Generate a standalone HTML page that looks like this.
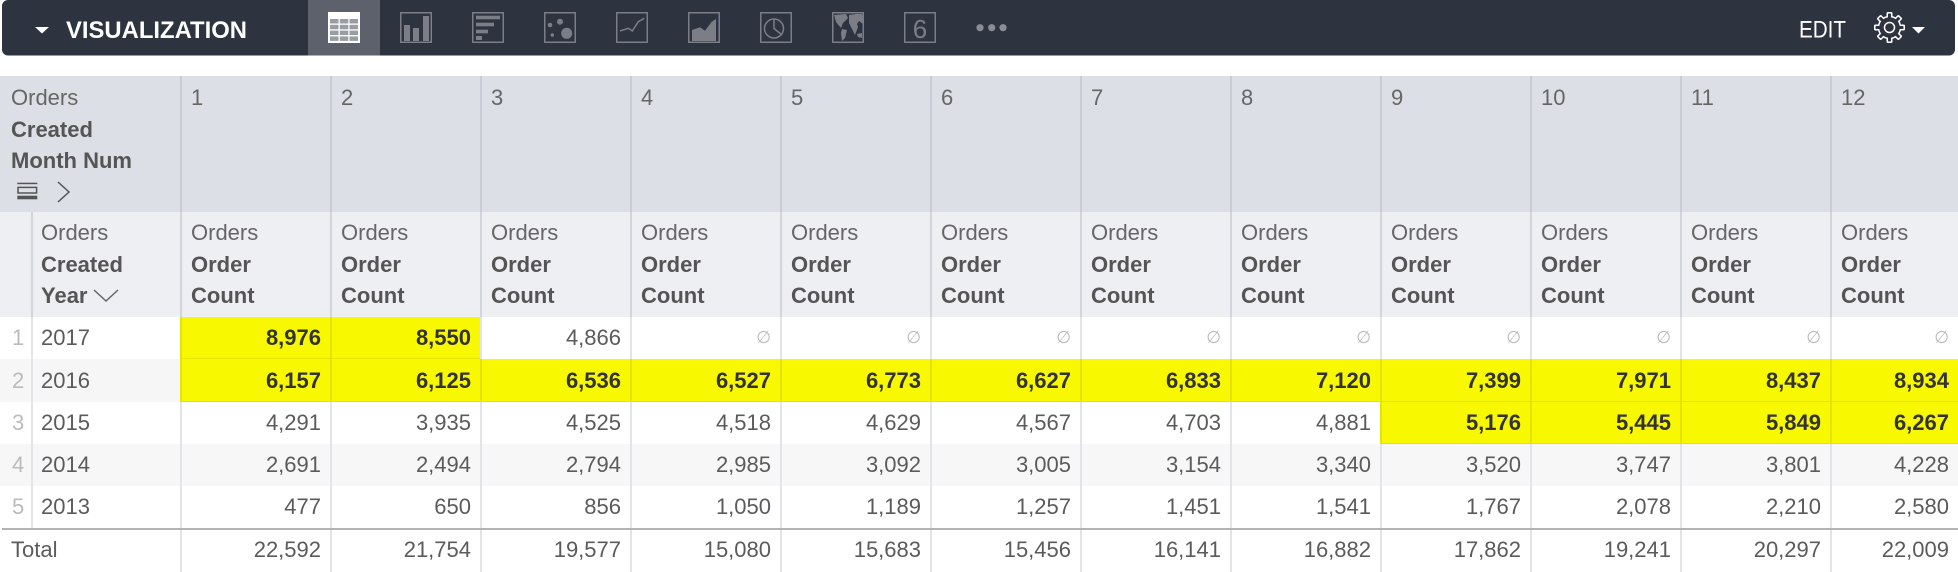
<!DOCTYPE html>
<html>
<head>
<meta charset="utf-8">
<style>
html,body{margin:0;padding:0;}
body{width:1958px;height:564px;overflow:hidden;background:#fff;position:relative;font-family:"Liberation Sans",Arial,sans-serif;font-size:22px;color:#5b5b5b;}
.row{position:absolute;left:0;display:flex;white-space:nowrap;}
.row div{box-sizing:border-box;flex:none;overflow:hidden;}
.h1 div{height:136px;line-height:31.5px;padding:6px 0 0 9px;border-left:2px solid #c9ccd4;width:150px;color:#666;}
.h1 .f{width:180px;border-left:none;padding-left:11px;}
.h2 div{height:105px;line-height:31.5px;padding:5px 0 0 9px;border-left:2px solid #d3d5dc;width:150px;color:#666;}
.h2 .rn{width:31px;border-left:none;padding:0;}
.h2 .yr{width:149px;padding-left:8px;}
b{color:#555;font-weight:bold;}
.d div{border-left:2px solid #e3e4e8;width:150px;text-align:right;padding-right:9px;}
.d .rn{width:31px;border-left:none;text-align:left;padding:0 0 0 12px;color:#bbb;}
.d .yr{width:149px;text-align:left;padding:0 0 0 8px;}
.d .y{background:#f8f800;border-left-color:#e4e400;font-weight:bold;color:#333;box-shadow:inset 0 -1px 0 #e4e400;}
.d .n{color:#b9b9b9;font-size:17px;}
.g{background:#f6f6f7;}
.t div{border-left:2px solid #e3e4e8;width:150px;text-align:right;padding-right:9px;}
.t .f{width:180px;border-left:none;text-align:left;padding-left:11px;}
.row div:last-child{width:128px;}
</style>
</head>
<body>
<svg width="1958" height="56" style="position:absolute;left:0;top:0" xmlns="http://www.w3.org/2000/svg">
  <rect x="2" y="0" width="1953" height="55.5" rx="6" fill="#2e3340"/>
  <rect x="308" y="0" width="72" height="55.5" fill="#5d616b"/>
  <polygon points="35,27 49,27 42,33.5" fill="#fff"/>
  <text x="66" y="38" font-family="Liberation Sans, sans-serif" font-weight="bold" font-size="24" fill="#fff" textLength="181" lengthAdjust="spacingAndGlyphs">VISUALIZATION</text>
  <rect x="328" y="12" width="32" height="31" fill="#fff"/>
  <g fill="#9a9da4">
    <rect x="330" y="19" width="8.5" height="4.5"/><rect x="339.8" y="19" width="8.5" height="4.5"/><rect x="349.5" y="19" width="8.5" height="4.5"/>
    <rect x="330" y="24.8" width="8.5" height="4.5"/><rect x="339.8" y="24.8" width="8.5" height="4.5"/><rect x="349.5" y="24.8" width="8.5" height="4.5"/>
    <rect x="330" y="30.6" width="8.5" height="4.5"/><rect x="339.8" y="30.6" width="8.5" height="4.5"/><rect x="349.5" y="30.6" width="8.5" height="4.5"/>
    <rect x="330" y="36.4" width="8.5" height="4.5"/><rect x="339.8" y="36.4" width="8.5" height="4.5"/><rect x="349.5" y="36.4" width="8.5" height="4.5"/>
  </g>
  <g fill="none" stroke="#7b7e87" stroke-width="1.5">
    <rect x="400.75" y="12.75" width="30.5" height="29.5"/>
    <rect x="472.75" y="12.75" width="30.5" height="29.5"/>
    <rect x="544.75" y="12.75" width="30.5" height="29.5"/>
    <rect x="616.75" y="12.75" width="30.5" height="29.5"/>
    <rect x="688.75" y="12.75" width="30.5" height="29.5"/>
    <rect x="760.75" y="12.75" width="30.5" height="29.5"/>
    <rect x="832.75" y="12.75" width="30.5" height="29.5"/>
    <rect x="904.75" y="12.75" width="30.5" height="29.5"/>
    <polyline points="620,31 628.3,28.3 632.3,31 638.3,21.7 644.3,18.3"/>
    <circle cx="774" cy="28.5" r="9.5"/>
    <polyline points="774,19 774,28.5 782,35"/>
  </g>
  <g fill="#7b7e87">
    <rect x="404" y="25" width="6" height="16"/><rect x="413" y="28" width="6" height="13"/><rect x="423" y="16" width="6" height="25"/>
    <rect x="476" y="15.7" width="24" height="3.6"/><rect x="476" y="22.7" width="18" height="3.6"/><rect x="476" y="29.7" width="12" height="3.6"/><rect x="476" y="36" width="6" height="4"/>
    <circle cx="550" cy="25" r="2.3"/><circle cx="560" cy="21.7" r="3"/><circle cx="552.3" cy="35" r="1.7"/><circle cx="566.7" cy="33.3" r="5.5"/>
    <polygon points="692,41 692,30 700,27.3 705,30.7 711.7,21.7 716,19 716,41"/>
    <polygon points="834,15 846,14 848,18 843,23 841,28 836,22"/>
    <polygon points="842,29 847,30 845,38 842,41 841,33"/>
    <polygon points="849,15 856,14 862,14 863,18 863,24 859,21 857,24 858,27 855,35 852,29 849,23"/>
    <polygon points="857,34 862,33 862,38 858,37"/>
    <circle cx="980" cy="27.7" r="3.6" fill="#8a8d95"/><circle cx="991.7" cy="27.7" r="3.6" fill="#8a8d95"/><circle cx="1003" cy="27.7" r="3.6" fill="#8a8d95"/>
  </g>
  <text x="920" y="38" text-anchor="middle" font-family="Liberation Sans, sans-serif" font-size="26" fill="#7b7e87">6</text>
  <text x="1799" y="37.7" font-family="Liberation Sans, sans-serif" font-size="24" fill="#fff" textLength="47" lengthAdjust="spacingAndGlyphs">EDIT</text>
  <g transform="translate(1889.5,27.5)">
    <g fill="#fff">
      <circle r="11.8"/>
      <rect x="-3" y="-15.5" width="6" height="6" rx="1.5"/>
      <rect x="-3" y="-15.5" width="6" height="6" rx="1.5" transform="rotate(45)"/>
      <rect x="-3" y="-15.5" width="6" height="6" rx="1.5" transform="rotate(90)"/>
      <rect x="-3" y="-15.5" width="6" height="6" rx="1.5" transform="rotate(135)"/>
      <rect x="-3" y="-15.5" width="6" height="6" rx="1.5" transform="rotate(180)"/>
      <rect x="-3" y="-15.5" width="6" height="6" rx="1.5" transform="rotate(225)"/>
      <rect x="-3" y="-15.5" width="6" height="6" rx="1.5" transform="rotate(270)"/>
      <rect x="-3" y="-15.5" width="6" height="6" rx="1.5" transform="rotate(315)"/>
    </g>
    <g fill="#2e3340">
      <circle r="10.3"/>
      <rect x="-1.5" y="-14" width="3" height="5" rx="0.8"/>
      <rect x="-1.5" y="-14" width="3" height="5" rx="0.8" transform="rotate(45)"/>
      <rect x="-1.5" y="-14" width="3" height="5" rx="0.8" transform="rotate(90)"/>
      <rect x="-1.5" y="-14" width="3" height="5" rx="0.8" transform="rotate(135)"/>
      <rect x="-1.5" y="-14" width="3" height="5" rx="0.8" transform="rotate(180)"/>
      <rect x="-1.5" y="-14" width="3" height="5" rx="0.8" transform="rotate(225)"/>
      <rect x="-1.5" y="-14" width="3" height="5" rx="0.8" transform="rotate(270)"/>
      <rect x="-1.5" y="-14" width="3" height="5" rx="0.8" transform="rotate(315)"/>
    </g>
    <circle r="5" fill="none" stroke="#fff" stroke-width="1.5"/>
  </g>
  <polygon points="1912,27 1925,27 1918.5,33.5" fill="#fff"/>
</svg>

<div class="row h1" style="top:76px;background:#dcdfe6;">
  <div class="f">Orders<br><b>Created</b><br><b>Month Num</b></div>
  <div>1</div><div>2</div><div>3</div><div>4</div><div>5</div><div>6</div><div>7</div><div>8</div><div>9</div><div>10</div><div>11</div><div>12</div>
</div>
<svg width="80" height="30" style="position:absolute;left:0;top:178px" xmlns="http://www.w3.org/2000/svg">
  <rect x="17.3" y="4.7" width="20" height="1.5" fill="#555"/>
  <rect x="18" y="9.4" width="18.6" height="5.6" fill="none" stroke="#555" stroke-width="1.5"/>
  <rect x="17.3" y="17.7" width="20" height="3.6" fill="#555"/>
  <polyline points="58,4 69,14 58,24" fill="none" stroke="#555" stroke-width="1.5"/>
</svg>

<div class="row h2" style="top:212px;background:#eeeff3;">
  <div class="rn"></div>
  <div class="yr">Orders<br><b>Created</b><br><b>Year</b></div>
  <div>Orders<br><b>Order</b><br><b>Count</b></div>
  <div>Orders<br><b>Order</b><br><b>Count</b></div>
  <div>Orders<br><b>Order</b><br><b>Count</b></div>
  <div>Orders<br><b>Order</b><br><b>Count</b></div>
  <div>Orders<br><b>Order</b><br><b>Count</b></div>
  <div>Orders<br><b>Order</b><br><b>Count</b></div>
  <div>Orders<br><b>Order</b><br><b>Count</b></div>
  <div>Orders<br><b>Order</b><br><b>Count</b></div>
  <div>Orders<br><b>Order</b><br><b>Count</b></div>
  <div>Orders<br><b>Order</b><br><b>Count</b></div>
  <div>Orders<br><b>Order</b><br><b>Count</b></div>
  <div>Orders<br><b>Order</b><br><b>Count</b></div>
</div>
<svg width="30" height="16" style="position:absolute;left:92px;top:288px" xmlns="http://www.w3.org/2000/svg">
  <polyline points="2,2 14,13 26,2" fill="none" stroke="#666" stroke-width="1.5"/>
</svg>

<div class="row d" style="top:317px;height:42px;line-height:42px;">
  <div class="rn">1</div><div class="yr">2017</div>
  <div class="y">8,976</div><div class="y">8,550</div><div>4,866</div>
  <div class="n">∅</div><div class="n">∅</div><div class="n">∅</div><div class="n">∅</div><div class="n">∅</div><div class="n">∅</div><div class="n">∅</div><div class="n">∅</div><div class="n">∅</div>
</div>
<div class="row d" style="top:359px;height:43px;line-height:43px;">
  <div class="rn g">2</div><div class="yr g">2016</div>
  <div class="y">6,157</div><div class="y">6,125</div><div class="y">6,536</div><div class="y">6,527</div><div class="y">6,773</div><div class="y">6,627</div><div class="y">6,833</div><div class="y">7,120</div><div class="y">7,399</div><div class="y">7,971</div><div class="y">8,437</div><div class="y">8,934</div>
</div>
<div class="row d" style="top:402px;height:42px;line-height:42px;">
  <div class="rn">3</div><div class="yr">2015</div>
  <div>4,291</div><div>3,935</div><div>4,525</div><div>4,518</div><div>4,629</div><div>4,567</div><div>4,703</div><div>4,881</div><div class="y">5,176</div><div class="y">5,445</div><div class="y">5,849</div><div class="y">6,267</div>
</div>
<div class="row d" style="top:444px;height:42px;line-height:42px;background:#f7f7f8;">
  <div class="rn">4</div><div class="yr">2014</div>
  <div>2,691</div><div>2,494</div><div>2,794</div><div>2,985</div><div>3,092</div><div>3,005</div><div>3,154</div><div>3,340</div><div>3,520</div><div>3,747</div><div>3,801</div><div>4,228</div>
</div>
<div class="row d" style="top:486px;height:42px;line-height:42px;">
  <div class="rn">5</div><div class="yr">2013</div>
  <div>477</div><div>650</div><div>856</div><div>1,050</div><div>1,189</div><div>1,257</div><div>1,451</div><div>1,541</div><div>1,767</div><div>2,078</div><div>2,210</div><div>2,580</div>
</div>
<div style="position:absolute;left:2px;top:528px;width:1960px;height:2px;background:#b3b3b3;"></div>
<div class="row t" style="top:530px;height:42px;line-height:40px;">
  <div class="f">Total</div>
  <div>22,592</div><div>21,754</div><div>19,577</div><div>15,080</div><div>15,683</div><div>15,456</div><div>16,141</div><div>16,882</div><div>17,862</div><div>19,241</div><div>20,297</div><div>22,009</div>
</div>
</body>
</html>
